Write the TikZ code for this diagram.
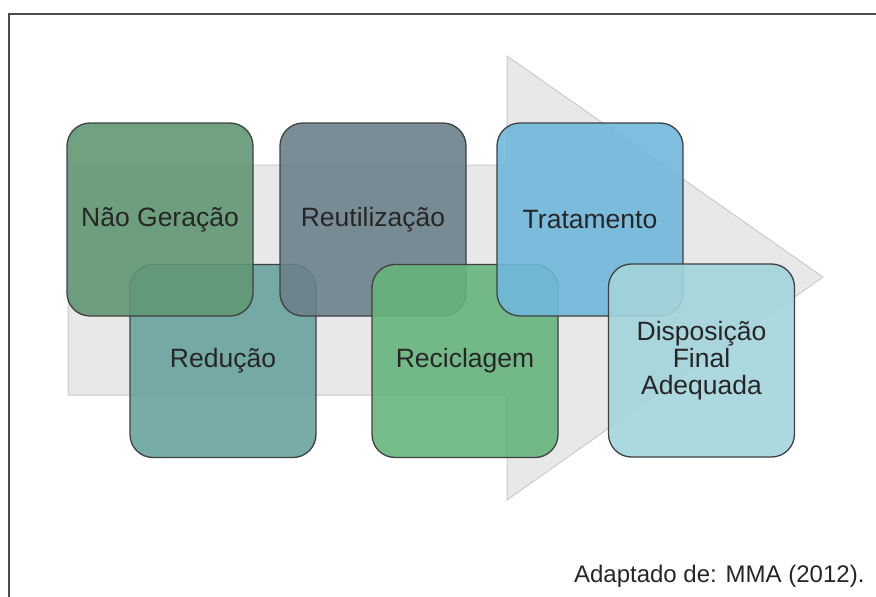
\documentclass[tikz,border=0pt]{standalone}
\usepackage{fontspec}
\setmainfont{Liberation Sans}

\definecolor{naogeracao}{RGB}{96,152,116}
\definecolor{reducao}{RGB}{105,163,158}
\definecolor{reutilizacao}{RGB}{107,129,140}
\definecolor{reciclagem}{RGB}{103,180,125}
\definecolor{tratamento}{RGB}{112,183,218}
\definecolor{disposicao}{RGB}{163,212,220}

\begin{document}
\begin{tikzpicture}[
    x=1pt, y=-1pt,
    stage/.style={draw=black!75,line width=1.3pt,rounded corners=23pt,
      fill opacity=0.9,text opacity=1,minimum width=186pt,minimum height=193pt,
      inner sep=0pt,align=center,text=black!85,font=\fontsize{26.5}{27}\selectfont},
    caption/.style={anchor=base east,text=black!85,font=\fontsize{24}{28}\selectfont},
  ]

  \useasboundingbox (0,0) rectangle (876,597);

  % frame
  \draw[line width=2pt,black!70] (9,597) -- (9,14) -- (876,14);

  % big arrow behind the stages
  \draw[draw=black!20,fill=black!9,line width=1pt]
    (68,165) -- (507,165) -- (507,56) -- (823,277) -- (507,500) -- (507,395) -- (68,395) -- cycle;

  % stages
  \node (reducao) at (223,361) [stage,fill=reducao] {Redução};
  \node (naogeracao) at (160,219.5) [stage,fill=naogeracao] {Não Geração};
  \node (reutilizacao) at (373,219.5) [stage,fill=reutilizacao] {Reutilização};
  \node (reciclagem) at (465,361) [stage,fill=reciclagem] {Reciclagem};
  \node (tratamento) at (590,219.5) [stage,fill=tratamento] {Tratamento};
  \node (disposicao) at (701.5,360.5) [stage,fill=disposicao] {Disposição\\Final\\Adequada};

  \node (fonte) at (868,582) [caption] {Adaptado de: MMA (2012).};

\end{tikzpicture}
\end{document}
